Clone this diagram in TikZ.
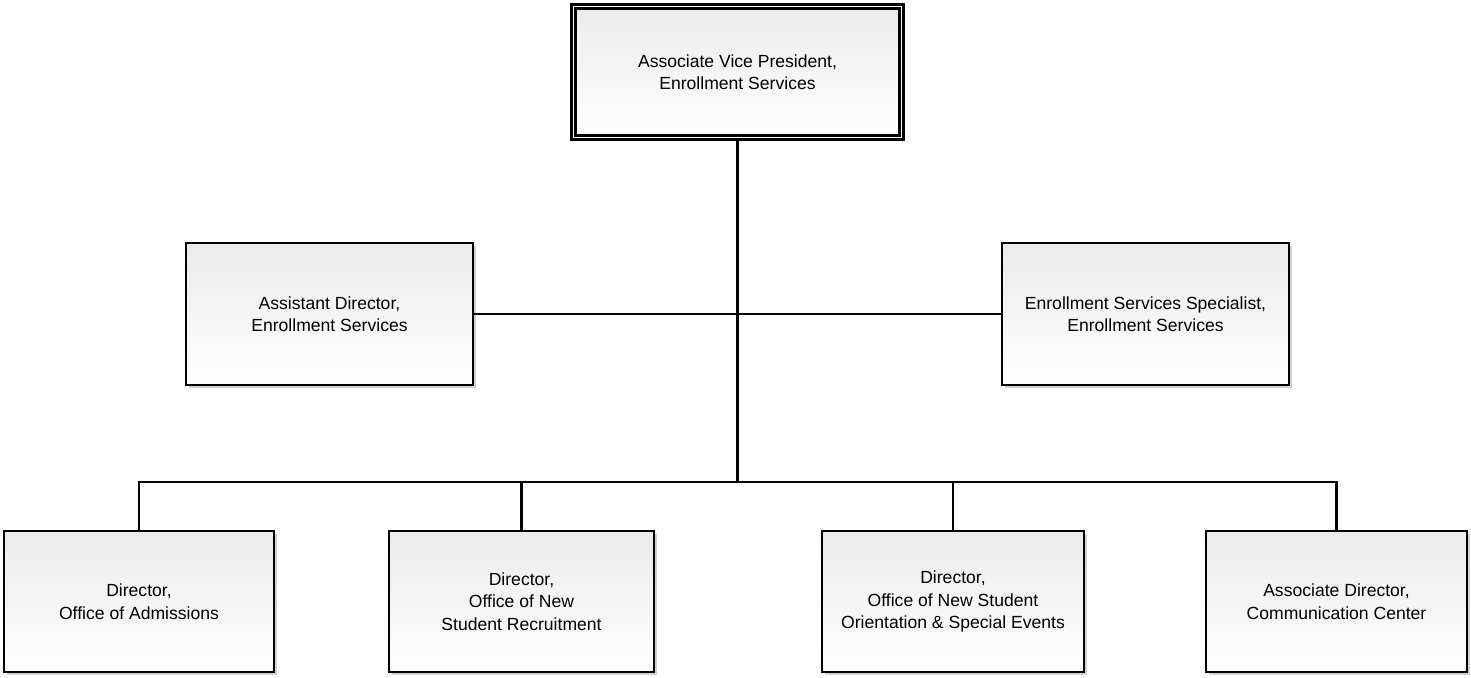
\documentclass[tikz,border=0pt]{standalone}
\usepackage{fontspec}
\setmainfont{Liberation Sans}
\usetikzlibrary{positioning,shadows}

\tikzset{
	box/.style={draw, rectangle, line width=1.5pt, top color=gray!16, bottom color=white,
		align=center, inner sep=0pt, font=\fontsize{10}{12.8}\selectfont,
		drop shadow={shadow xshift=1.6pt, shadow yshift=-1.6pt, fill=black!35, opacity=0.5}},
	topbox/.style={box, double, double distance=1.1pt, line width=1.2pt},
	link/.style={line width=1.5pt}
}

\begin{document}
\begin{tikzpicture}
		% 画布大小与参考图一致
		\useasboundingbox (0, 0) rectangle (29.42, -13.54);

		% 顶层节点
		\node[topbox, minimum width=6.56cm, minimum height=2.62cm] (avp) at (14.75, -1.44)
			{Associate Vice President,\\ Enrollment Services};

		% 中间两个节点
		\node[box, minimum width=5.74cm, minimum height=2.84cm] (asd) at (6.59, -6.28)
			{Assistant Director,\\ Enrollment Services};
		\node[box, minimum width=5.74cm, minimum height=2.84cm] (ess) at (22.91, -6.28)
			{Enrollment Services Specialist,\\ Enrollment Services};

		% 底层四个节点
		\foreach \n/\x/\w/\txt in {d1/2.78/5.40/{Director,\\ Office of Admissions},
				d2/10.43/5.30/{Director,\\ Office of New\\ Student Recruitment},
				d3/19.06/5.24/{Director,\\ Office of New Student\\ Orientation \& Special Events},
				d4/26.73/5.22/{Associate Director,\\ Communication Center}} {
				\node[box, minimum width=\w cm, minimum height=2.82cm] (\n) at (\x, -12.03) {\txt};
			}

		% 连线
		\coordinate (bus) at (14.75, -9.64);
		\draw[link] (avp.south) -- (bus);
		\draw[link] (asd.east) -- (ess.west);
		\draw[link] (d1.north) -- (d1.north |- bus) -- (d4.north |- bus) -- (d4.north);
		\foreach \n in {d2, d3} {
				\draw[link] (\n.north) -- (\n.north |- bus);
			}
	\end{tikzpicture}
\end{document}
